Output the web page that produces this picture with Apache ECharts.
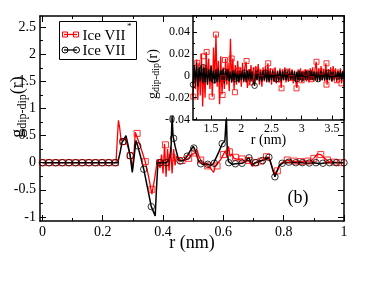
<!DOCTYPE html>
<html><head><meta charset="utf-8">
<script src="https://cdn.jsdelivr.net/npm/echarts@6/dist/echarts.min.js"></script>
<style>html,body{margin:0;padding:0;background:#fff}#c{width:374px;height:289px}</style>
</head><body><div id="c"></div>
<script>
// ---------- main panel data ----------
const blackR = [0,0.25,0.252,0.258,0.264,0.27,0.277,0.283,0.291,0.298,0.304,0.31,0.316,0.326,0.336,0.348,0.361,0.374,0.378,0.383,0.39,0.41,0.42,0.426,0.43,0.433,0.44,0.452,0.46,0.47,0.48,0.49,0.5,0.505,0.517,0.53,0.545,0.557,0.567,0.575,0.585,0.596,0.605,0.61,0.613,0.617,0.63,0.64,0.662,0.672,0.684,0.695,0.707,0.72,0.735,0.751,0.762,0.771,0.785,0.8,0.82,0.84,0.86,0.88,0.9,0.92,0.94,0.96,0.98,1.0];
const blackG = [0,0,0,0.2,0.38,0.42,0.5,0.35,0.13,-0.18,0.1,0.41,0.31,0.1,-0.12,-0.45,-0.81,-0.98,-0.5,0,0,0,0.05,0.2,0.86,0.5,0.3,0.04,0.03,0.05,0.12,0.22,0.3,0.25,0.04,-0.03,-0.02,-0.05,-0.02,0.08,0.2,0.35,0.4,0.88,0.2,0.02,-0.03,-0.02,-0.01,0.02,0.1,-0.04,0,0.03,0.05,0.1,-0.1,-0.26,-0.05,0,0.01,0,0,-0.01,0,-0.02,0,0,0,0];
const redR = [0,0.244,0.248,0.252,0.256,0.261,0.267,0.275,0.283,0.291,0.299,0.304,0.308,0.314,0.325,0.341,0.35,0.363,0.372,0.38,0.385,0.39,0.395,0.4,0.405,0.41,0.415,0.42,0.425,0.43,0.435,0.44,0.445,0.452,0.463,0.475,0.485,0.495,0.505,0.513,0.52,0.53,0.545,0.557,0.568,0.573,0.579,0.59,0.6,0.607,0.612,0.617,0.622,0.629,0.635,0.64,0.65,0.662,0.672,0.684,0.696,0.705,0.72,0.735,0.743,0.748,0.755,0.768,0.779,0.79,0.8,0.812,0.83,0.85,0.87,0.89,0.9,0.912,0.923,0.935,0.95,0.97,1.0];
const redG = [0,0,0.4,0.78,0.65,0.41,0.39,0.45,0.3,0.13,-0.09,0.2,0.56,0.54,0.3,0.02,-0.2,-0.58,-0.3,0,0.05,-0.1,0.15,-0.2,0.35,-0.26,0.25,-0.15,0.3,-0.2,0.25,-0.05,0.12,0.07,0.04,0.05,0.08,0.15,0.18,0.22,0.1,0,-0.05,-0.1,-0.18,-0.06,-0.06,0.05,0.15,0.22,0.1,0.3,0.12,0.16,0.08,0.1,0.06,0.07,0.02,0.04,-0.07,0,0.02,0.06,0.11,0.13,0.05,-0.2,-0.15,-0.02,0.02,0.05,0.03,0.02,0.03,0.03,0.08,0.16,0.15,0.08,0.02,0.01,0];
const blackMarkR = [0,0.022,0.044,0.066,0.088,0.11,0.132,0.154,0.176,0.198,0.22,0.242,0.267,0.291,0.316,0.336,0.361,0.389,0.411,0.435,0.457,0.48,0.502,0.525,0.548,0.57,0.596,0.618,0.64,0.662,0.685,0.707,0.73,0.751,0.771,0.795,0.817,0.84,0.862,0.885,0.907,0.93,0.952,0.975,1.0];
const blackMarkG = [0,0,0,0,0,0,0,0,0,0,0,0,0.39,0.13,0.31,-0.12,-0.81,0,0,0.45,0.03,0.12,0.27,-0.02,-0.03,-0.01,0.35,0,-0.02,-0.01,0.09,0,0.04,0.1,-0.26,-0.01,0.01,0,0,-0.005,0,-0.01,0,0,0];
const redMarkR = [0,0.022,0.044,0.066,0.088,0.11,0.132,0.154,0.176,0.198,0.22,0.242,0.267,0.291,0.314,0.341,0.363,0.389,0.408,0.43,0.463,0.485,0.505,0.525,0.548,0.579,0.6,0.62,0.64,0.662,0.685,0.707,0.725,0.743,0.779,0.812,0.835,0.857,0.88,0.9,0.923,0.945,0.968,0.99];
const redMarkG = [0,0,0,0,0,0,0,0,0,0,0,0,0.39,0.13,0.54,0.02,-0.49,0,0.33,0.1,0.04,0.08,0.18,0.05,-0.06,-0.06,0.15,0.2,0.1,0.07,0.04,0,0.03,0.11,-0.15,0.05,0.03,0.02,0.03,0.08,0.15,0.05,0.01,0];

// ---------- inset data (sampled every insetStep from insetStart) ----------
const insetStart = 1.2, insetStep = 0.02;
const insetRed = [-0.019,0.008,-0.012,0.015,-0.022,0.012,-0.018,0.02,-0.028,0.01,-0.02,0.022,-0.008,0.016,-0.012,0.01,-0.019,0.026,-0.006,0.038,-0.01,0.014,-0.026,0.018,-0.017,0.008,-0.012,0.016,-0.008,0.012,-0.014,0.034,-0.006,0.016,-0.013,0.01,-0.008,0.014,-0.006,0.008,-0.01,0.012,-0.006,0.009,0.013,-0.011,0.006,-0.008,0.01,-0.005,0.008,-0.007,0.009,-0.004,0.011,-0.008,0.006,-0.01,0.008,-0.005,0.009,-0.006,0.0115,-0.004,0.007,-0.008,0.006,-0.005,0.008,-0.007,0.005,-0.006,0.007,-0.011,0.006,-0.004,0.008,-0.006,0.005,-0.005,0.007,-0.004,0.006,-0.007,0.005,-0.005,-0.011,0.006,-0.004,0.007,-0.006,0.005,-0.004,0.006,-0.005,0.004,-0.006,0.007,-0.004,0.008,-0.005,0.006,0.013,-0.004,0.007,-0.005,0.009,-0.004,0.006,-0.005,0.0115,-0.008,0.006,-0.004,0.008,-0.005,0.009,-0.004,0.007,-0.006,0.006,-0.004,0.007,-0.007,0.005,-0.003];
const insetBlack = [-0.008,0.009,-0.006,0.012,-0.01,0.008,-0.005,0.01,-0.007,0.008,-0.006,0.007,-0.008,0.006,-0.005,0.009,-0.006,0.005,-0.007,0.006,-0.005,0.007,-0.006,0.005,-0.004,0.006,-0.007,0.005,-0.004,0.006,-0.005,0.004,-0.006,0.005,-0.004,0.006,-0.005,0.004,-0.006,0.005,-0.004,0.005,-0.005,0.004,-0.006,0.005,-0.004,0.006,-0.005,0.004,-0.006,-0.009,0.005,-0.004,0.006,-0.005,0.004,-0.005,0.005,-0.004,0.005,-0.005,0.004,-0.006,0.005,-0.004,0.005,-0.005,0.004,-0.005,0.004,-0.004,0.005,-0.005,0.004,-0.004,0.005,-0.004,0.004,-0.005,0.004,-0.004,0.005,-0.004,0.004,-0.005,0.004,-0.004,0.005,-0.004,0.004,-0.005,0.004,-0.004,0.005,-0.004,0.004,-0.004,0.005,-0.004,0.004,-0.004,0.004,-0.005,0.004,-0.004,0.005,-0.004,0.004,-0.004,0.005,-0.004,0.004,-0.004,0.004,-0.005,0.004,-0.004,0.004,-0.004,0.004,-0.004,0.005,-0.004,0.004,-0.003];
const insetBlackMarkR = [1.2,1.37,1.55,1.72,1.9,2.05,2.22,2.4,2.58,2.75,2.92,3.1,3.27,3.44,3.66];
const insetBlackMarkG = [-0.008,0.008,-0.004,0.004,-0.003,0.003,-0.009,0.003,-0.003,0.003,-0.003,0.002,-0.003,0.003,0];
const insetRedMarkR = [1.205,1.27,1.37,1.426,1.509,1.58,1.69,1.7,1.729,1.84,1.894,1.95,2.087,2.15,2.25,2.335,2.445,2.52,2.6,2.666,2.75,2.83,2.914,3.0,3.08,3.16,3.245,3.33,3.41,3.41,3.5,3.58,3.658];
const insetRedMarkG = [-0.019,0.012,0.018,0.022,-0.019,0.038,-0.0175,-0.002,0.0146,0.016,-0.015,0.005,0.0137,-0.006,0.005,0.0024,0.0116,0.004,-0.003,-0.0114,0.004,-0.002,-0.0114,-0.004,0.003,-0.003,0.013,0.004,0.0116,-0.008,0.003,-0.004,-0.0068];

// ---------- tick labels ----------
const mainXTicks = [0,0.2,0.4,0.6,0.8,1];
const mainXMinor = [0.1,0.3,0.5,0.7,0.9];
const mainYTicks = [-1,-0.5,0,0.5,1,1.5,2,2.5];
const mainYMinor = [-0.75,-0.25,0.25,0.75,1.25,1.75,2.25];
const insetXTicks = [1.5,2,2.5,3,3.5];
const insetXMinor = [1.25,1.75,2.25,2.75,3.25];
const insetYTicks = [-0.04,-0.02,0,0.02,0.04];
const insetYMinor = [-0.03,-0.01,0.01,0.03,0.05];

const FONT = 'Liberation Serif';
const zip = (a, b) => a.map((v, i) => [v, b[i]]);
const insetR = insetRed.map((_, i) => +(insetStart + i * insetStep).toFixed(2));

function axes(kind, grid, min, max, major, minor, majLen, minLen, fs, margin, z, name, nameGap, nameFs) {
  const pos = kind === 'x' ? ['bottom', 'top'] : ['left', 'right'];
  const base = (position, vals, len, line, labels) => {
    const a = {
      type: 'value', gridIndex: grid, position, min, max, z,
      axisLine: { show: line, onZero: false, lineStyle: { color: '#000', width: 1.5 } },
      axisTick: { show: true, inside: true, length: len, customValues: vals, lineStyle: { color: '#000', width: 1 } },
      axisLabel: labels ? { show: true, customValues: vals, margin, fontSize: fs, fontFamily: FONT, color: '#000', formatter: v => String(v) } : { show: false },
      splitLine: { show: false }
    };
    if (labels && name) {
      a.name = name; a.nameLocation = 'middle'; a.nameGap = nameGap; a.nameMoveOverlap = false;
      a.nameTextStyle = { fontFamily: FONT, fontSize: nameFs, color: '#000', verticalAlign: 'middle' };
    }
    return a;
  };
  return [
    base(pos[0], major, majLen, true, true),
    base(pos[0], minor, minLen, false, false),
    base(pos[1], major, majLen, true, false),
    base(pos[1], minor, minLen, false, false)
  ];
}

const xAxes = [
  ...axes('x', 0, -0.008, 1, mainXTicks, mainXMinor, 6, 3, 14, 4, 1, 'r (nm)', 22, 18),
  ...axes('x', 1, 1.2, 3.7, insetXTicks, insetXMinor, 4, 2, 12, 3, 6, 'r (nm)', 20.5, 14)
];
const yAxes = [
  ...axes('y', 0, -1.075, 2.705, mainYTicks, mainYMinor, 6, 3, 14, 4, 1),
  ...axes('y', 1, -0.04, 0.055, insetYTicks, insetYMinor, 4, 2, 12, 3, 6)
];

const chart = echarts.init(document.getElementById('c'), null, { renderer: 'canvas' });
chart.setOption({
  animation: false,
  backgroundColor: '#fff',
  grid: [
    { left: 40, top: 16, width: 304, height: 205, show: false },
    { left: 193, top: 16, width: 151, height: 103.5, show: true, backgroundColor: '#fff', borderWidth: 0, z: 3 }
  ],
  xAxis: xAxes,
  yAxis: yAxes,
  series: [
    { type: 'line', xAxisIndex: 0, yAxisIndex: 0, data: zip(redR, redG), showSymbol: false, lineStyle: { color: '#ff0000', width: 1.3 }, z: 2 },
    { type: 'scatter', xAxisIndex: 0, yAxisIndex: 0, data: zip(redMarkR, redMarkG), symbol: 'rect', symbolSize: 6, itemStyle: { color: 'rgba(0,0,0,0)', borderColor: '#ff0000', borderWidth: 1 }, z: 2 },
    { type: 'line', xAxisIndex: 0, yAxisIndex: 0, data: zip(blackR, blackG), showSymbol: false, lineStyle: { color: '#000', width: 1.5 }, z: 2 },
    { type: 'scatter', xAxisIndex: 0, yAxisIndex: 0, data: zip(blackMarkR, blackMarkG), symbol: 'circle', symbolSize: 6.5, itemStyle: { color: 'rgba(0,0,0,0)', borderColor: '#000', borderWidth: 1 }, z: 2 },
    { type: 'line', xAxisIndex: 4, yAxisIndex: 4, data: zip(insetR, insetRed), showSymbol: false, lineStyle: { color: '#ff0000', width: 1.3 }, z: 5 },
    { type: 'scatter', xAxisIndex: 4, yAxisIndex: 4, data: zip(insetRedMarkR, insetRedMarkG), symbol: 'rect', symbolSize: 5, itemStyle: { color: 'rgba(0,0,0,0)', borderColor: '#ff0000', borderWidth: 1 }, z: 5 },
    { type: 'line', xAxisIndex: 4, yAxisIndex: 4, data: zip(insetR, insetBlack), showSymbol: false, lineStyle: { color: '#000', width: 1.3 }, z: 5 },
    { type: 'scatter', xAxisIndex: 4, yAxisIndex: 4, data: zip(insetBlackMarkR, insetBlackMarkG), symbol: 'circle', symbolSize: 5.5, itemStyle: { color: 'rgba(0,0,0,0)', borderColor: '#000', borderWidth: 1 }, z: 5 }
  ],
  graphic: [
    { type: 'text', x: 18, y: 107, rotation: Math.PI / 2, z: 20,
      style: { text: '{g|g}{s|dip-dip}{p|(r)}', align: 'center', verticalAlign: 'middle', fill: '#000',
        rich: { g: { fontFamily: FONT, fontSize: 18, lineHeight: 22, fill: '#000' }, s: { fontFamily: FONT, fontSize: 12, lineHeight: 12, verticalAlign: 'bottom', fill: '#000' }, p: { fontFamily: FONT, fontSize: 18, lineHeight: 22, fill: '#000' } } } },
    { type: 'text', x: 153, y: 74, rotation: Math.PI / 2, z: 20,
      style: { text: '{g|g}{s|dip-dip}{p|(r)}', align: 'center', verticalAlign: 'middle', fill: '#000',
        rich: { g: { fontFamily: FONT, fontSize: 14, lineHeight: 17, fill: '#000' }, s: { fontFamily: FONT, fontSize: 10, lineHeight: 10, verticalAlign: 'bottom', fill: '#000' }, p: { fontFamily: FONT, fontSize: 14, lineHeight: 17, fill: '#000' } } } },
    { type: 'text', x: 298, y: 198, z: 20, style: { text: '(b)', fontFamily: FONT, fontSize: 18, fill: '#000', align: 'center', verticalAlign: 'middle' } },
    { type: 'rect', z: 20, shape: { x: 59.5, y: 21.5, width: 77, height: 38 }, style: { fill: '#fff', stroke: '#000', lineWidth: 1 } },
    { type: 'line', z: 21, shape: { x1: 64, y1: 34.5, x2: 77, y2: 34.5 }, style: { stroke: '#ff0000', lineWidth: 1.3 } },
    { type: 'rect', z: 21, shape: { x: 62.5, y: 32, width: 5, height: 5 }, style: { fill: 'none', stroke: '#ff0000', lineWidth: 1 } },
    { type: 'rect', z: 21, shape: { x: 73.5, y: 32, width: 5, height: 5 }, style: { fill: 'none', stroke: '#ff0000', lineWidth: 1 } },
    { type: 'line', z: 21, shape: { x1: 64, y1: 50, x2: 77, y2: 50 }, style: { stroke: '#000', lineWidth: 1.3 } },
    { type: 'circle', z: 21, shape: { cx: 65, cy: 50, r: 3 }, style: { fill: 'none', stroke: '#000', lineWidth: 1 } },
    { type: 'circle', z: 21, shape: { cx: 76.5, cy: 50, r: 3 }, style: { fill: 'none', stroke: '#000', lineWidth: 1 } },
    { type: 'text', z: 21, x: 82.5, y: 36, style: { text: 'Ice VII', fontFamily: FONT, fontSize: 15, fill: '#000', align: 'left', verticalAlign: 'middle' } },
    { type: 'text', z: 21, x: 127, y: 27, style: { text: '*', fontFamily: FONT, fontSize: 9, fill: '#000', align: 'left', verticalAlign: 'middle' } },
    { type: 'text', z: 21, x: 82.5, y: 51, style: { text: 'Ice VII', fontFamily: FONT, fontSize: 15, fill: '#000', align: 'left', verticalAlign: 'middle' } }
  ]
});
</script></body></html>
